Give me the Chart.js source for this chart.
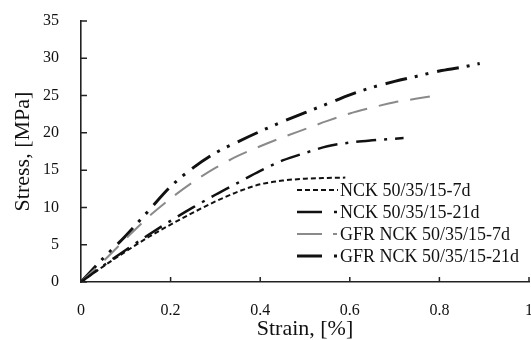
<!DOCTYPE html>
<html>
<head>
<meta charset="utf-8">
<script src="https://cdn.jsdelivr.net/npm/chart.js@4.4.0/dist/chart.umd.min.js"></script>
<style>
html,body{margin:0;padding:0;background:#fff;}
#wrap{width:531px;height:340px;position:relative;}
</style>
</head>
<body>
<div id="wrap"><canvas id="c" width="531" height="340"></canvas></div>
<script>
// ---- data ----
const seriesLabels = ['NCK 50/35/15-7d', 'NCK 50/35/15-21d', 'GFR NCK 50/35/15-7d', 'GFR NCK 50/35/15-21d'];

const nck7Strain  = [0, 0.05, 0.10, 0.15, 0.20, 0.25, 0.30, 0.35, 0.40, 0.45, 0.50, 0.55, 0.59];
const nck7Stress  = [0, 2.1, 4.1, 6.0, 7.7, 9.3, 10.8, 12.1, 13.1, 13.6, 13.85, 13.95, 14.0];

const nck21Strain = [0, 0.05, 0.10, 0.15, 0.20, 0.25, 0.30, 0.35, 0.40, 0.45, 0.50, 0.55, 0.60, 0.65, 0.72];
const nck21Stress = [0, 2.2, 4.3, 6.3, 8.2, 10.0, 11.7, 13.3, 14.9, 16.3, 17.3, 18.2, 18.7, 19.0, 19.3];

const gfr7Strain  = [0, 0.05, 0.10, 0.15, 0.20, 0.25, 0.30, 0.35, 0.40, 0.45, 0.50, 0.55, 0.60, 0.65, 0.70, 0.75, 0.80];
const gfr7Stress  = [0, 2.8, 5.8, 8.7, 11.2, 13.4, 15.3, 16.9, 18.2, 19.4, 20.5, 21.6, 22.6, 23.4, 24.1, 24.6, 25.1];

const gfr21Strain = [0, 0.05, 0.10, 0.15, 0.20, 0.25, 0.30, 0.35, 0.40, 0.45, 0.50, 0.55, 0.60, 0.65, 0.70, 0.75, 0.80, 0.85, 0.89];
const gfr21Stress = [0, 3.2, 6.2, 9.5, 12.8, 15.3, 17.3, 18.8, 20.2, 21.5, 22.7, 23.9, 25.1, 26.1, 26.9, 27.6, 28.3, 28.8, 29.3];

const xTickLabels = ['0', '0.2', '0.4', '0.6', '0.8', '1'];
const yTickLabels = ['0', '5', '10', '15', '20', '25', '30', '35'];
const xTitle = 'Strain, [%]';
const yTitle = 'Stress, [MPa]';

// ---- build ----
function pts(xs, ys) { return xs.map((x, i) => ({x: x, y: ys[i]})); }

const SERIF = "'Liberation Serif', 'Times New Roman', serif";
const styles = [
  {color: '#111', width: 2,   dash: [5, 3],                legendDash: [5, 3]},
  {color: '#111', width: 2.5, dash: [20, 8, 3, 8],         legendDash: [25, 12, 3, 60]},
  {color: '#8a8a8a', width: 2, dash: [20, 12],             legendDash: [25, 11, 4, 60]},
  {color: '#111', width: 3,   dash: [22, 8, 3, 8, 3, 9],   legendDash: [25, 12, 3, 60]}
];
const rawData = [pts(nck7Strain, nck7Stress), pts(nck21Strain, nck21Stress), pts(gfr7Strain, gfr7Stress), pts(gfr21Strain, gfr21Stress)];

const datasets = rawData.map((d, i) => ({
  label: seriesLabels[i],
  data: d,
  showLine: true,
  borderColor: styles[i].color,
  backgroundColor: styles[i].color,
  borderWidth: styles[i].width,
  borderDash: styles[i].dash,
  borderCapStyle: 'butt',
  pointRadius: 0,
  cubicInterpolationMode: 'monotone',
  fill: false
}));

const innerTicks = {
  id: 'innerTicks',
  afterDraw(chart) {
    const ctx = chart.ctx;
    const xs = chart.scales.x, ys = chart.scales.y;
    const a = chart.chartArea;
    ctx.save();
    ctx.strokeStyle = '#222';
    ctx.lineWidth = 1.5;
    ctx.beginPath();
    ys.ticks.forEach(t => {
      const py = ys.getPixelForValue(t.value);
      ctx.moveTo(a.left, py); ctx.lineTo(a.left + 6, py);
    });
    xs.ticks.forEach(t => {
      if (t.value === 0) return;
      const px = xs.getPixelForValue(t.value);
      ctx.moveTo(px, a.bottom); ctx.lineTo(px, a.bottom - 5);
    });
    ctx.stroke();
    ctx.restore();
  }
};

const innerLegend = {
  id: 'innerLegend',
  afterDraw(chart) {
    const ctx = chart.ctx;
    const a = chart.chartArea;
    const sx0 = a.left + 216, sx1 = a.left + 257, tx = a.left + 259;
    const y0 = 190, dy = 22;
    ctx.save();
    ctx.font = "18px " + SERIF;
    ctx.textBaseline = 'middle';
    ctx.textAlign = 'left';
    chart.data.datasets.forEach((ds, i) => {
      const y = y0 + i * dy;
      ctx.strokeStyle = ds.borderColor;
      ctx.lineWidth = ds.borderWidth;
      ctx.lineCap = 'butt';
      ctx.setLineDash(styles[i].legendDash);
      ctx.beginPath();
      ctx.moveTo(sx0, y); ctx.lineTo(sx1, y);
      ctx.stroke();
      ctx.setLineDash([]);
      ctx.fillStyle = '#111';
      ctx.fillText(ds.label, tx, y + 1);
    });
    ctx.restore();
  }
};

new Chart(document.getElementById('c'), {
  type: 'scatter',
  data: {datasets: datasets},
  plugins: [innerTicks, innerLegend],
  options: {
    responsive: false,
    devicePixelRatio: 1,
    animation: false,
    layout: {padding: {top: 21, right: 2, left: 0, bottom: 0}},
    plugins: {legend: {display: false}, tooltip: {enabled: false}},
    scales: {
      x: {
        type: 'linear', min: 0, max: 1,
        afterFit(s) { s.height = 58; s.paddingLeft = 0; s.paddingRight = 0; },
        ticks: {
          stepSize: 0.2, padding: 19, color: '#111',
          font: {family: SERIF, size: 16},
          maxRotation: 0,
          callback: (v, i) => xTickLabels[i]
        },
        grid: {display: true, drawOnChartArea: false, drawTicks: false},
        border: {display: true, color: '#222', width: 1.6},
        title: {display: true, text: xTitle, color: '#111', font: {family: SERIF, size: 22, lineHeight: 1}, padding: {top: 0, bottom: 0}}
      },
      y: {
        type: 'linear', min: 0, max: 35,
        afterFit(s) { s.width = 81; s.paddingTop = 0; s.paddingBottom = 0; },
        ticks: {
          stepSize: 5, padding: 22, color: '#111',
          font: {family: SERIF, size: 16},
          callback: (v, i) => yTickLabels[i]
        },
        grid: {display: true, drawOnChartArea: false, drawTicks: false},
        border: {display: true, color: '#222', width: 1.6},
        title: {display: true, text: yTitle, color: '#111', font: {family: SERIF, size: 22, lineHeight: 1}, padding: {top: 12, bottom: 0}}
      }
    }
  }
});
</script>
</body>
</html>
